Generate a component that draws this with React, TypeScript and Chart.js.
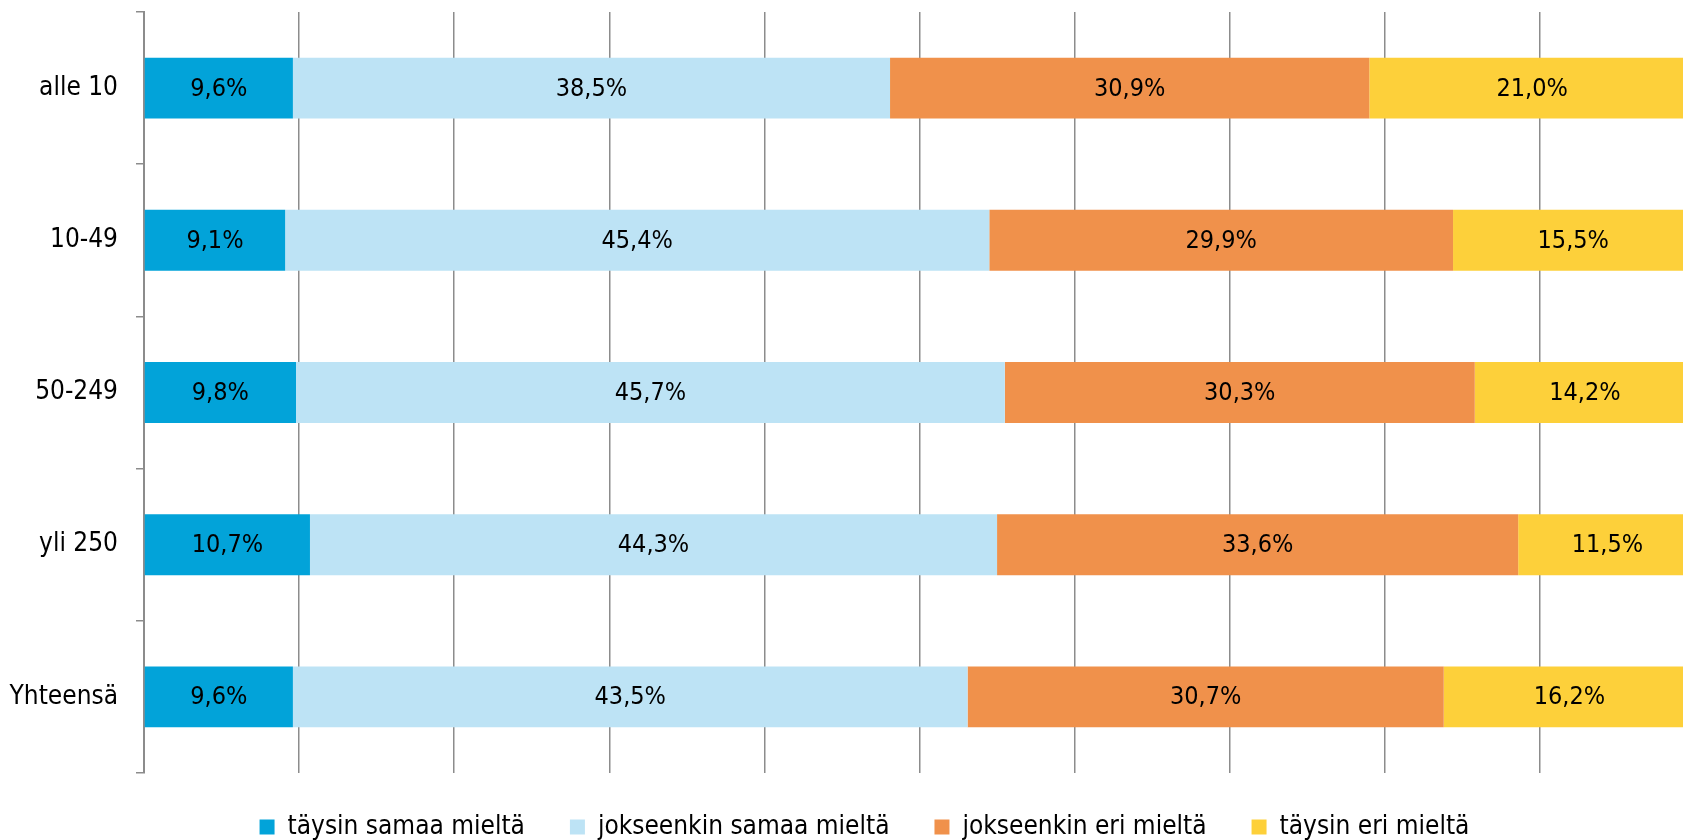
import React, { useEffect, useRef } from "react";
import { Chart, registerables } from "chart.js";

Chart.register(...registerables);

const categories = ["alle 10", "10-49", "50-249", "yli 250", "Yhteensä"];
const seriesNames = [
  "täysin samaa mieltä",
  "jokseenkin samaa mieltä",
  "jokseenkin eri mieltä",
  "täysin eri mieltä",
];
const taysinSamaa = [9.6, 9.1, 9.8, 10.7, 9.6];
const jokseenkinSamaa = [38.5, 45.4, 45.7, 44.3, 43.5];
const jokseenkinEri = [30.9, 29.9, 30.3, 33.6, 30.7];
const taysinEri = [21.0, 15.5, 14.2, 11.5, 16.2];
const seriesColors = ["#02A3D9", "#BDE3F5", "#F0914B", "#FDD03A"];

const FONT = "'DejaVu Sans Condensed', 'DejaVu Sans', sans-serif";

const dataLabels = {
  id: "dataLabels",
  afterDatasetsDraw(chart: any) {
    const ctx = chart.ctx;
    ctx.save();
    ctx.font = `25px ${FONT}`;
    ctx.fillStyle = "#000";
    ctx.textAlign = "center";
    ctx.textBaseline = "middle";
    chart.data.datasets.forEach((ds: any, di: number) => {
      const meta = chart.getDatasetMeta(di);
      meta.data.forEach((el: any, i: number) => {
        const v = ds.data[i];
        const x = (el.x + el.base) / 2;
        ctx.fillText(v.toFixed(1).replace(".", ",") + "%", x, el.y + 1);
      });
    });
    ctx.restore();
  },
};

const legendShift = {
  id: "legendShift",
  afterLayout(chart: any) {
    if (chart.legend) {
      chart.legend.left = 34;
      chart.legend.top = chart.legend.top - 4;
    }
  },
};

export default function App() {
  const ref = useRef<HTMLCanvasElement>(null);
  useEffect(() => {
    const values = [taysinSamaa, jokseenkinSamaa, jokseenkinEri, taysinEri];
    const chart = new Chart(ref.current!, {
      type: "bar",
      data: {
        labels: categories,
        datasets: values.map((d, i) => ({
          label: seriesNames[i],
          data: d,
          backgroundColor: seriesColors[i],
          borderWidth: 0,
          barPercentage: 0.4,
          categoryPercentage: 1,
        })),
      },
      options: {
        indexAxis: "y",
        responsive: false,
        animation: false,
        devicePixelRatio: 1,
        layout: { padding: { left: 0, right: 5, top: 12, bottom: -14 } },
        scales: {
          x: {
            stacked: true,
            min: 0,
            max: 100,
            ticks: { display: false, stepSize: 10 },
            grid: { color: "#8c8c8c", lineWidth: 1.5, drawTicks: false },
            border: { display: false },
            afterFit: (s: any) => {
              s.height = 0;
              s.paddingLeft = 0;
              s.paddingRight = 0;
            },
          },
          y: {
            stacked: true,
            ticks: {
              color: "#000",
              font: { family: FONT, size: 26 },
              padding: 18,
            },
            grid: {
              drawOnChartArea: false,
              color: "#8c8c8c",
              lineWidth: 1.5,
              tickLength: 8,
            },
            border: { display: true, color: "#8c8c8c", width: 2 },
            afterFit: (s: any) => {
              s.width = 144;
              s.paddingTop = 0;
              s.paddingBottom = 0;
            },
          },
        },
        plugins: {
          legend: {
            position: "bottom",
            align: "center",
            labels: {
              color: "#000",
              font: { family: FONT, size: 26 },
              boxWidth: 15,
              boxHeight: 15,
              padding: 45,
            },
          },
          tooltip: { enabled: false },
        },
      },
      plugins: [dataLabels, legendShift],
    } as any);
    return () => chart.destroy();
  }, []);
  return (
    <div
      style={{
        position: "fixed",
        left: 0,
        top: 0,
        width: 1683,
        height: 840,
        overflow: "hidden",
        background: "#fff",
      }}
    >
      <canvas ref={ref} width={1700} height={840} style={{ width: 1700, height: 840, display: "block" }} />
    </div>
  );
}
